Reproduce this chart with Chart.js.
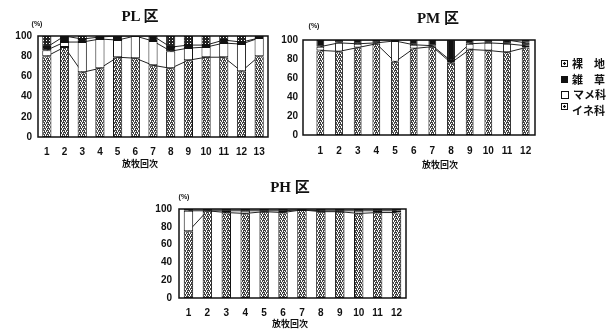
<!DOCTYPE html>
<html>
<head>
<meta charset="utf-8">
<script src="https://cdn.jsdelivr.net/npm/chart.js@4.4.0/dist/chart.umd.min.js"></script>
<style>
    body { margin: 0; background: #fff; width: 615px; height: 329px; position: relative; overflow: hidden; }
    canvas { position: absolute; }
    .t { position: absolute; transform: translate(-50%, -50%); white-space: nowrap; color: #111; font-weight: bold; }
    .title { font-family: "Liberation Serif", "Noto Sans CJK JP", serif; font-size: 15px; }
    .pct { font-family: "Liberation Sans", sans-serif; font-size: 7px; }
    .xt { font-family: "Noto Sans CJK JP", sans-serif; font-size: 9px; }
    .legend { position: absolute; left: 561px; top: 56px; font-family: "Noto Sans CJK JP", sans-serif; font-weight: bold; font-size: 11px; color: #111; line-height: 15.5px; }
    .legend div { display: flex; align-items: center; }
    .legend i { display: inline-block; width: 5px; height: 5px; border: 1px solid #111; margin-right: 4px; background: #fff; }
</style>
</head>
<body>
<canvas id="pl" width="290" height="170" style="left:0;top:0"></canvas>
<canvas id="pm" width="270" height="170" style="left:280px;top:0"></canvas>
<canvas id="ph" width="290" height="159" style="left:140px;top:170px"></canvas>

<div class="t title" style="left:140px;top:14px">PL 区</div>
<div class="t title" style="left:438px;top:16px">PM 区</div>
<div class="t title" style="left:290px;top:185px">PH 区</div>
<div class="t pct" style="left:37px;top:23px">(%)</div>
<div class="t pct" style="left:314px;top:25px">(%)</div>
<div class="t pct" style="left:184px;top:196px">(%)</div>
<div class="t xt" style="left:140px;top:163px">放牧回次</div>
<div class="t xt" style="left:440px;top:164px">放牧回次</div>
<div class="t xt" style="left:290px;top:323px">放牧回次</div>

<div class="legend">
    <div><i style="background:radial-gradient(circle,#111 1px,#fff 1.5px)"></i>裸　地</div>
    <div><i style="background:#111"></i>雑　草</div>
    <div><i style="width:6px;height:6px;border-width:1.5px"></i>マメ科</div>
    <div><i style="background:radial-gradient(circle,#111 1px,#fff 1.5px);margin-top:-8px"></i>イネ科</div>
</div>

<script>
// 放牧回次
const plRounds = ['1', '2', '3', '4', '5', '6', '7', '8', '9', '10', '11', '12', '13'];
const pmRounds = ['1', '2', '3', '4', '5', '6', '7', '8', '9', '10', '11', '12'];
const phRounds = ['1', '2', '3', '4', '5', '6', '7', '8', '9', '10', '11', '12'];
const yTicks = [0, 20, 40, 60, 80, 100];

// PL 区 (%)
const plIne   = [80, 89, 64, 68, 79, 78, 71, 68, 76, 79, 79, 65, 80];
const plMame  = [6, 5, 30, 29, 17, 22, 24, 17, 12, 10, 14, 27, 18];
const plZasso = [3, 6, 3, 2, 4, 0, 5, 4, 3, 2, 3, 2, 0];
const plRachi = [11, 0, 3, 1, 0, 0, 0, 11, 9, 9, 4, 6, 2];

// PM 区 (%)
const pmIne   = [89, 88, 92, 96, 77, 91, 93, 76, 90, 89, 87, 92];
const pmMame  = [4, 9, 4, 1, 22, 4, 1, 2, 6, 8, 9, 2];
const pmZasso = [7, 3, 4, 3, 1, 5, 6, 22, 4, 3, 4, 3];
const pmRachi = [0, 0, 0, 0, 0, 0, 0, 0, 0, 0, 0, 3];

// PH 区 (%)
const phIne   = [75, 98, 96, 95, 97, 96, 99, 97, 97, 95, 96, 96];
const phMame  = [23, 0, 2, 3, 1, 2, 0, 1, 1, 3, 2, 2];
const phZasso = [2, 2, 2, 2, 2, 2, 1, 2, 2, 2, 2, 2];
const phRachi = [0, 0, 0, 0, 0, 0, 0, 0, 0, 0, 0, 0];

function makePattern(rows, ink, paper) {
    const c = document.createElement('canvas');
    c.width = rows[0].length; c.height = rows.length;
    const g = c.getContext('2d');
    g.fillStyle = paper; g.fillRect(0, 0, c.width, c.height);
    g.fillStyle = ink;
    rows.forEach((r, y) => r.split('').forEach((ch, x) => { if (ch === 'x') g.fillRect(x, y, 1, 1); }));
    return g.createPattern(c, 'repeat');
}
const inePattern = makePattern(['xx.x', '.x.x', 'x.xx', 'x.x.'], '#444', '#fff');
const rachiPattern = makePattern(['xxx', 'x.x', 'xxx'], '#222', '#fff');

function cumulative(arrs) {
    return arrs[0].map((_, i) => arrs.reduce((s, a) => s + a[i], 0));
}

const framePlugin = {
    id: 'frame',
    afterDraw(chart, args, opts) {
        const a = chart.chartArea, c = chart.ctx;
        const l = opts.left || 0, r = opts.right || 0;
        c.save();
        c.strokeStyle = '#111';
        c.lineWidth = 1.5;
        c.strokeRect(a.left - l, a.top, a.right - a.left + l + r, a.bottom - a.top);
        c.restore();
    }
};

function makeChart(id, labels, ine, mame, zasso, rachi, cfg) {
    const bar = (label, data, bg) => ({
        label, data, backgroundColor: bg, borderColor: '#111', borderWidth: 1,
        borderSkipped: false, stack: 'b', order: 1,
        barPercentage: cfg.barPct, categoryPercentage: 1
    });
    const line = (data, k) => ({
        type: 'line', data, stack: 'l' + k, order: 10,
        borderColor: '#222', borderWidth: 1, pointRadius: 0, fill: false, tension: 0
    });
    return new Chart(document.getElementById(id), {
        type: 'bar',
        data: {
            labels,
            datasets: [
                bar('イネ科', ine, inePattern),
                bar('マメ科', mame, '#fff'),
                bar('雑草', zasso, '#111'),
                bar('裸地', rachi, rachiPattern),
                line(cumulative([ine]), 0),
                line(cumulative([ine, mame]), 1),
                line(cumulative([ine, mame, zasso]), 2)
            ]
        },
        options: {
            responsive: false,
            animation: false,
            layout: { padding: { top: cfg.top, left: 0, right: cfg.right, bottom: 0 } },
            plugins: { legend: { display: false }, tooltip: { enabled: false }, frame: { left: cfg.frameLeft || 0 } },
            scales: {
                x: {
                    stacked: true,
                    grid: { display: false, drawTicks: false },
                    border: { display: false },
                    ticks: { color: '#111', padding: cfg.xPad, font: { family: 'Liberation Sans', size: 10, weight: 'bold' } },
                    afterFit: s => { s.height = cfg.xH; }
                },
                y: {
                    stacked: true, min: 0, max: 100,
                    grid: { display: false, drawTicks: false },
                    border: { display: false },
                    afterBuildTicks: s => { s.ticks = yTicks.map(v => ({ value: v })); },
                    ticks: { color: '#111', padding: cfg.yPad, font: { family: 'Liberation Sans', size: 10, weight: 'bold' } },
                    afterFit: s => { s.width = cfg.yW; }
                }
            }
        },
        plugins: [framePlugin]
    });
}

makeChart('pl', plRounds, plIne, plMame, plZasso, plRachi,
    { top: 36, right: 22, yW: 38, xH: 33, xPad: 9, yPad: 6, barPct: 0.52 });
makeChart('pm', pmRounds, pmIne, pmMame, pmZasso, pmRachi,
    { top: 40, right: 15, yW: 31, xH: 35, xPad: 10, yPad: 13, barPct: 0.42, frameLeft: 8 });
makeChart('ph', phRounds, phIne, phMame, phZasso, phRachi,
    { top: 39, right: 24, yW: 39, xH: 31, xPad: 9, yPad: 7, barPct: 0.5 });
</script>
</body>
</html>
